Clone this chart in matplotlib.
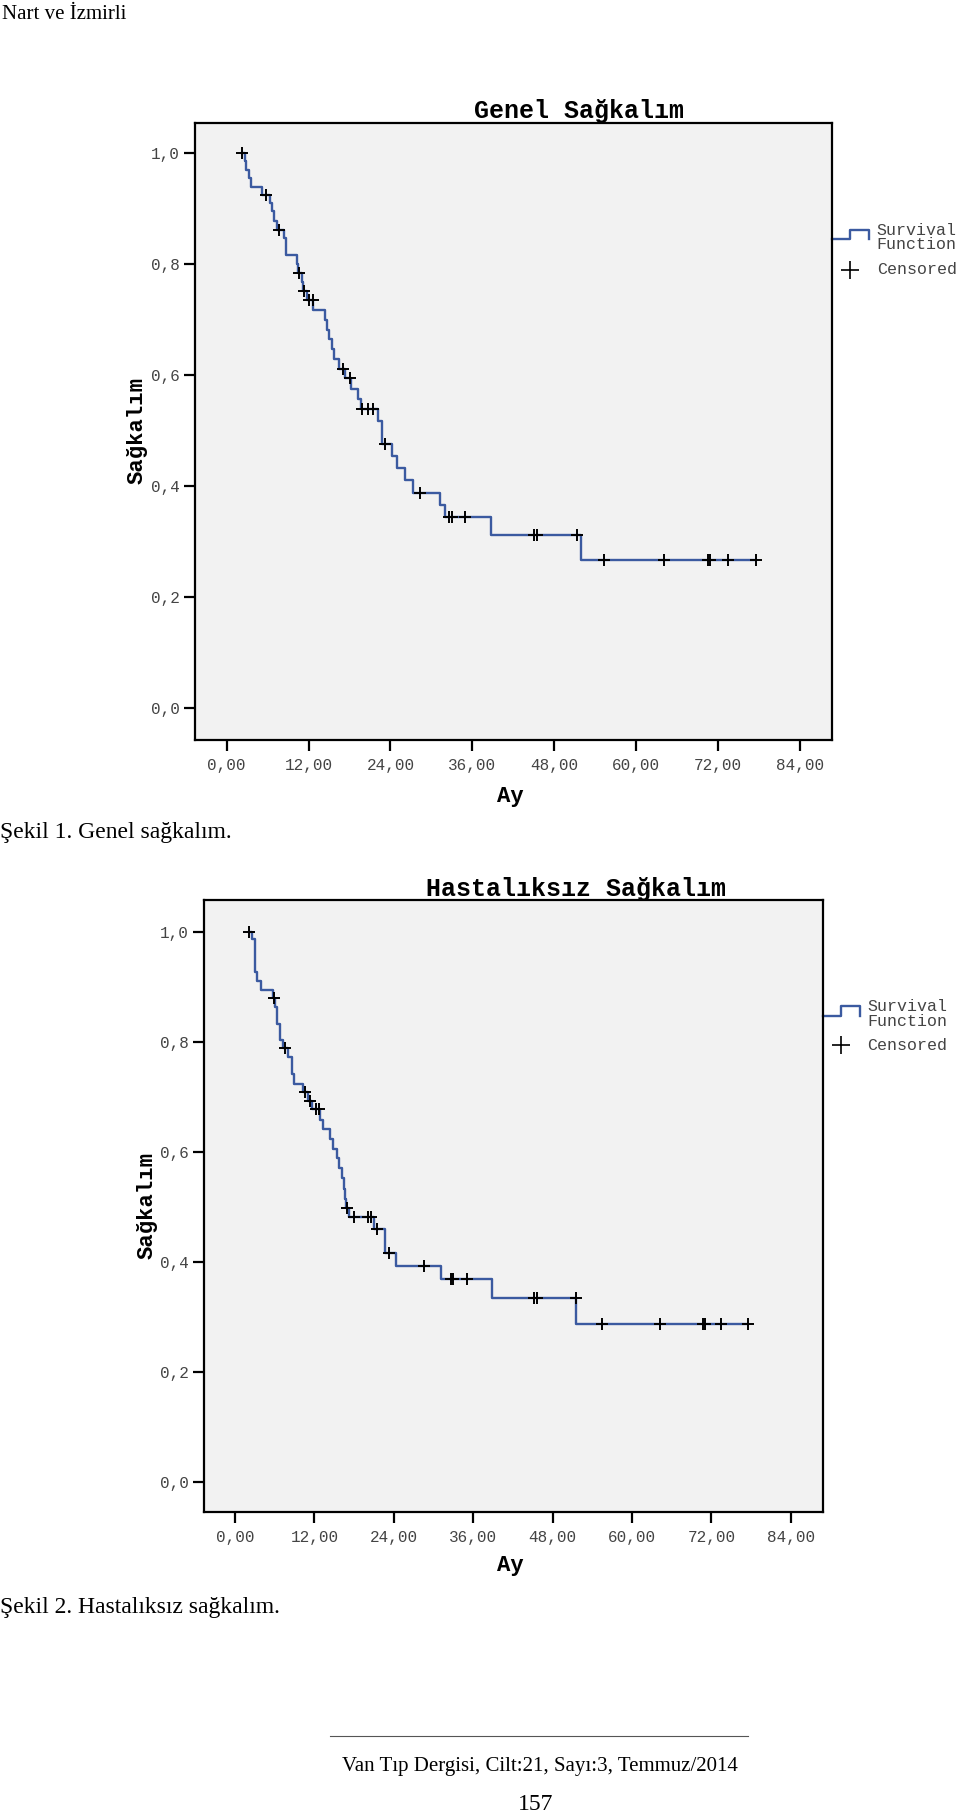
import matplotlib
matplotlib.use("Agg")
import matplotlib.pyplot as plt
from matplotlib.lines import Line2D

# Genel sağkalım (overall survival): step times (months) and survival after each step
OS_START = 2.2
OS_EVENT_T = [2.7, 2.9, 3.3, 3.5, 5.2, 6.35, 6.7, 7.0, 7.3, 8.4, 8.7, 10.35, 10.5, 11.0,
              11.2, 11.7, 12.7, 14.4, 14.75, 15.0, 15.4, 15.7, 16.4, 17.3, 18.2, 19.3,
              19.7, 22.2, 22.7, 22.8, 24.3, 25.0, 26.2, 27.3, 31.2, 32.0, 38.7, 51.9]
OS_EVENT_S = [0.985, 0.970, 0.955, 0.939, 0.924, 0.910, 0.895, 0.878, 0.862, 0.847, 0.816,
              0.800, 0.784, 0.768, 0.752, 0.736, 0.718, 0.700, 0.682, 0.665, 0.647, 0.630,
              0.611, 0.595, 0.575, 0.558, 0.540, 0.518, 0.497, 0.476, 0.455, 0.432, 0.412,
              0.388, 0.366, 0.344, 0.312, 0.267]
OS_CENS_T = [2.2, 5.8, 7.7, 10.6, 11.3, 12.1, 12.6, 17.0, 18.1, 19.9, 20.7, 21.4, 23.2,
             28.4, 32.6, 33.0, 34.9, 45.1, 45.5, 51.4, 55.3, 64.1, 70.5, 70.9, 73.5, 77.6]
OS_CENS_S = [1.0, 0.924, 0.862, 0.784, 0.752, 0.736, 0.736, 0.611, 0.595, 0.540, 0.540,
             0.540, 0.476, 0.388, 0.344, 0.344, 0.344, 0.312, 0.312, 0.312, 0.267, 0.267,
             0.267, 0.267, 0.267, 0.267]

# Hastalıksız sağkalım (disease-free survival)
DFS_START = 2.1
DFS_EVENT_T = [2.5, 3.0, 3.3, 4.0, 5.7, 6.0, 6.35, 6.8, 7.3, 7.95, 8.65, 8.95, 10.3, 11.1,
               11.7, 12.85, 13.35, 14.35, 14.75, 15.35, 15.7, 16.1, 16.5, 16.7, 16.8, 17.2,
               21.05, 22.7, 24.4, 31.2, 38.8, 51.5]
DFS_EVENT_S = [0.986, 0.926, 0.911, 0.895, 0.879, 0.864, 0.833, 0.803, 0.788, 0.773, 0.741,
               0.724, 0.709, 0.693, 0.677, 0.658, 0.641, 0.623, 0.605, 0.588, 0.570, 0.552,
               0.533, 0.515, 0.497, 0.481, 0.459, 0.416, 0.392, 0.368, 0.335, 0.287]
DFS_CENS_T = [2.1, 5.9, 7.55, 10.6, 11.3, 12.2, 12.7, 17.0, 18.0, 20.05, 20.55, 21.4, 23.3,
              28.5, 32.6, 33.0, 35.0, 45.2, 45.6, 51.5, 55.4, 64.2, 70.7, 71.1, 73.5, 77.6]
DFS_CENS_S = [1.0, 0.879, 0.788, 0.709, 0.693, 0.677, 0.677, 0.497, 0.481, 0.481, 0.481,
              0.459, 0.416, 0.392, 0.368, 0.368, 0.368, 0.335, 0.335, 0.335, 0.287, 0.287,
              0.287, 0.287, 0.287, 0.287]

X_TICKS = [0, 12, 24, 36, 48, 60, 72, 84]
Y_TICKS = [0.0, 0.2, 0.4, 0.6, 0.8, 1.0]

CURVE_COLOR = "#3b5aa0"
BG_COLOR = "#f2f2f2"
TEXT_GRAY = "#444444"
MONO = "Liberation Mono"
SERIF = "Liberation Serif"


def draw_km(ax, start, event_t, event_s, cens_t, cens_s, xlim, ylim):
    xs = [start] + event_t + [cens_t[-1]]
    ys = [1.0] + event_s + [event_s[-1]]
    ax.plot(xs, ys, drawstyle="steps-post", color=CURVE_COLOR, linewidth=1.7, zorder=2)
    ax.plot(cens_t, cens_s, linestyle="none", marker="+", color="black",
            markersize=8, markeredgewidth=1.4, zorder=3)

    ax.set_facecolor(BG_COLOR)
    ax.set_xlim(*xlim)
    ax.set_ylim(*ylim)
    ax.set_xticks(X_TICKS)
    ax.set_xticklabels([f"{v:.2f}".replace(".", ",") for v in X_TICKS],
                       fontfamily=MONO, fontsize=11.5, color=TEXT_GRAY)
    ax.set_yticks(Y_TICKS)
    ax.set_yticklabels([f"{v:.1f}".replace(".", ",") for v in Y_TICKS],
                       fontfamily=MONO, fontsize=11.5, color=TEXT_GRAY)
    ax.tick_params(axis="x", direction="out", length=8, width=1.6, pad=5)
    ax.tick_params(axis="y", direction="out", length=8, width=1.6, pad=3)
    for sp in ax.spines.values():
        sp.set_linewidth(1.6)
        sp.set_color("black")

    # legend drawn beside the box, like SPSS output
    ax.plot([1.0, 1.029, 1.029, 1.059, 1.059], [0.811, 0.811, 0.826, 0.826, 0.811],
            transform=ax.transAxes, color=CURVE_COLOR, linewidth=1.7, clip_on=False)
    ax.plot([1.029], [0.762], transform=ax.transAxes, marker="+", color="black",
            markersize=13, markeredgewidth=1.2, clip_on=False)
    for label, y in [("Survival", 0.826), ("Function", 0.802), ("Censored", 0.762)]:
        ax.text(1.071, y, label, transform=ax.transAxes, fontfamily=MONO, fontsize=12,
                color=TEXT_GRAY, va="center", ha="left")


fig = plt.figure(figsize=(9.6, 18.19), dpi=100)

ax1 = fig.add_axes([0.2031, 0.5932, 0.6632, 0.3394])
draw_km(ax1, OS_START, OS_EVENT_T, OS_EVENT_S, OS_CENS_T, OS_CENS_S,
        (-4.65, 88.67), (-0.057, 1.055))

ax2 = fig.add_axes([0.2125, 0.1689, 0.6448, 0.3364])
draw_km(ax2, DFS_START, DFS_EVENT_T, DFS_EVENT_S, DFS_CENS_T, DFS_CENS_S,
        (-4.68, 88.86), (-0.0545, 1.058))

# titles and axis labels
fig.text(0.603, 0.939, "Genel Sağkalım", fontfamily=MONO, fontweight="bold",
         fontsize=18, ha="center", va="center")
fig.text(0.600, 0.5113, "Hastalıksız Sağkalım", fontfamily=MONO, fontweight="bold",
         fontsize=18, ha="center", va="center")
fig.text(0.532, 0.5621, "Ay", fontfamily=MONO, fontweight="bold", fontsize=16,
         ha="center", va="center")
fig.text(0.532, 0.1391, "Ay", fontfamily=MONO, fontweight="bold", fontsize=16,
         ha="center", va="center")
fig.text(0.1427, 0.7632, "Sağkalım", fontfamily=MONO, fontweight="bold", fontsize=16,
         rotation=90, ha="center", va="center")
fig.text(0.1531, 0.337, "Sağkalım", fontfamily=MONO, fontweight="bold", fontsize=16,
         rotation=90, ha="center", va="center")

# page text around the figures
fig.text(0.002, 0.9923, "Nart ve İzmirli", fontfamily=SERIF, fontsize=15,
         ha="left", va="center")
fig.text(0.0, 0.5426, "Şekil 1. Genel sağkalım.", fontfamily=SERIF, fontsize=17,
         ha="left", va="center")
fig.text(0.0, 0.1165, "Şekil 2. Hastalıksız sağkalım.", fontfamily=SERIF, fontsize=17,
         ha="left", va="center")
fig.add_artist(Line2D([0.344, 0.779], [0.0458, 0.0458], transform=fig.transFigure,
                      color="#555555", linewidth=0.8))
fig.text(0.5625, 0.0286, "Van Tıp Dergisi, Cilt:21, Sayı:3, Temmuz/2014",
         fontfamily=SERIF, fontsize=15, ha="center", va="center")
fig.text(0.558, 0.0077, "157", fontfamily=SERIF, fontsize=17, ha="center", va="center")

fig.savefig("out.png", dpi=100, facecolor="white")
plt.close(fig)
